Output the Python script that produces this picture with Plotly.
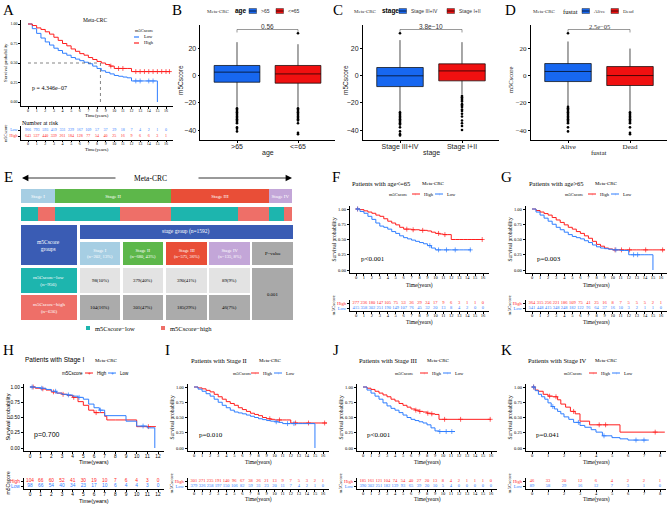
import plotly.graph_objects as go

W, H = 669, 505
SERIF = "Liberation Serif"
SANS = "Liberation Sans"
RED = "#FF1E1E"
BLUE = "#2F7EFF"
BOX_BLUE = "#1767F0"
BOX_RED = "#F01010"
TEAL = "#1DB5AE"
SALMON = "#EE6F68"
NAVY = "#3A5CB4"
STAGE_COLS = ["#A6CEE3", "#5DB74A", "#E94E37", "#C3A6D8"]

# ---------------- data ----------------
T = [0, 0.5, 1, 1.5, 2, 2.5, 3, 3.5, 4, 4.5, 5, 5.5, 6, 6.5, 7, 7.5, 8, 8.5,
     9, 9.5, 10, 10.5, 11, 11.5, 12, 12.5, 13, 13.5, 14, 14.5, 15, 15.5, 16, 16.5]
years16 = [0, 1, 2, 3, 4, 5, 6, 7, 8, 9, 10, 11, 12, 13, 14, 15, 16]
years12 = [0, 1, 2, 3, 4, 5, 6, 7, 8, 9, 10, 11, 12]
years8 = [0, 1, 2, 3, 4, 5, 6, 7, 8]

# A - whole Meta-CRC cohort
a_low_s = [1.0, 0.94, 0.88, 0.82, 0.77, 0.73, 0.69, 0.66, 0.625, 0.60, 0.57, 0.55, 0.53, 0.51,
           0.49, 0.46, 0.43, 0.40, 0.38, 0.36, 0.34, 0.33, 0.32, 0.31, 0.27, 0.27, 0.27, 0.27,
           0.27, 0.27, 0.0]
a_high_s = [1.0, 0.98, 0.95, 0.93, 0.90, 0.87, 0.83, 0.79, 0.75, 0.72, 0.68, 0.65, 0.62, 0.60,
            0.57, 0.545, 0.52, 0.50, 0.48, 0.46, 0.43, 0.43, 0.43, 0.43, 0.39, 0.39, 0.39, 0.39,
            0.39, 0.39, 0.39, 0.39, 0.39, 0.39]
a_low_cens = [12.5, 13, 14, 14.5]
a_high_cens = [9.6, 10.5, 11, 12.5, 13, 13.5, 14, 14.5, 15, 15.5, 16, 16.4]
a_median_time = [8.4]
a_risk_low = [966, 793, 593, 419, 331, 229, 167, 109, 57, 37, 29, 18, 7, 4, 2, 1, 0]
a_risk_high = [643, 537, 440, 339, 261, 184, 128, 77, 54, 40, 25, 16, 9, 6, 6, 3, 1]

# F - age <= 65
f_high_s = [1.0, 0.99, 0.97, 0.95, 0.93, 0.90, 0.88, 0.84, 0.80, 0.77, 0.74, 0.70, 0.67, 0.67,
            0.66, 0.66, 0.65, 0.65, 0.64, 0.62, 0.60, 0.59, 0.58, 0.58, 0.50, 0.50, 0.50, 0.50,
            0.50, 0.50, 0.50, 0.50, 0.50]
f_low_s = [1.0, 0.96, 0.93, 0.88, 0.83, 0.77, 0.72, 0.70, 0.67, 0.63, 0.60, 0.56, 0.53, 0.51,
           0.49, 0.47, 0.45, 0.43, 0.40, 0.36, 0.33, 0.33, 0.33, 0.33, 0.33, 0.33, 0.33, 0.33,
           0.33, 0.33]
f_high_cens = [0.2, 6.4, 7.2, 8.4, 10.4, 11.2, 15.9]
f_low_cens = [0.2, 9.3, 10.4, 11.4, 12.5, 14.4]
f_risk_high = [277, 236, 180, 147, 105, 75, 53, 36, 29, 24, 17, 9, 6, 3, 1, 1, 0]
f_risk_low = [415, 358, 302, 251, 190, 149, 107, 76, 45, 32, 20, 13, 8, 4, 2, 0, 0]

# G - age > 65
g_high_s = [1.0, 0.975, 0.95, 0.925, 0.90, 0.86, 0.82, 0.78, 0.74, 0.70, 0.67, 0.63, 0.60, 0.56,
            0.52, 0.47, 0.42, 0.39, 0.36, 0.345, 0.33, 0.33, 0.33, 0.33, 0.33, 0.33, 0.33, 0.33,
            0.33, 0.33, 0.33, 0.33, 0.33, 0.33]
g_low_s = [1.0, 0.95, 0.90, 0.85, 0.80, 0.75, 0.70, 0.66, 0.62, 0.58, 0.55, 0.53, 0.51, 0.48,
           0.45, 0.41, 0.38, 0.36, 0.35, 0.34, 0.33, 0.33, 0.32, 0.32, 0.25, 0.25, 0.25, 0.25,
           0.25, 0.25, 0.0]
g_high_cens = [10.3, 11.1, 12.1, 14.1, 16.2]
g_low_cens = [10.4, 12.6, 13.1]
g_risk_high = [364, 315, 256, 221, 186, 109, 75, 41, 25, 16, 8, 7, 5, 5, 5, 2, 1]
g_risk_low = [541, 448, 415, 348, 248, 182, 122, 91, 64, 37, 16, 10, 3, 2, 1, 1, 0]

# H - Stage I
h_high_t = [0, 0.5, 1, 1.5, 2, 2.5, 3, 3.5, 4, 4.5, 5, 5.5, 6, 6.5, 7, 7.2, 8, 9, 10, 11.8]
h_high_s = [1.0, 0.98, 0.97, 0.95, 0.92, 0.90, 0.88, 0.86, 0.83, 0.76, 0.70, 0.62, 0.58, 0.58,
            0.52, 0.46, 0.46, 0.46, 0.35, 0.35]
h_low_t = [0, 0.5, 1, 1.5, 2, 2.5, 3, 3.5, 4, 4.5, 5, 5.5, 6, 6.5, 7, 9, 10, 11, 11.7]
h_low_s = [1.0, 0.99, 0.98, 0.96, 0.93, 0.90, 0.88, 0.87, 0.85, 0.83, 0.80, 0.72, 0.66, 0.62,
           0.53, 0.44, 0.36, 0.33, 0.0]
h_high_cens = [0.3, 1.2, 2.2, 3.1, 4.1, 6.2, 11.1]
h_low_cens = [0.2, 1.1, 2.4, 3.6, 4.6, 6.6, 10.6]
h_risk_high = [104, 66, 60, 52, 41, 30, 19, 10, 7, 6, 4, 3, 0]
h_risk_low = [98, 66, 54, 40, 34, 23, 17, 10, 6, 4, 4, 3, 0]

# I - Stage II
i_high_s = [1.0, 0.985, 0.97, 0.945, 0.92, 0.88, 0.84, 0.80, 0.76, 0.73, 0.70, 0.66, 0.63, 0.60,
            0.57, 0.55, 0.53, 0.50, 0.48, 0.47, 0.46, 0.46, 0.46, 0.46, 0.41, 0.41, 0.41, 0.41,
            0.41, 0.41, 0.41, 0.41, 0.41, 0.41]
i_low_s = [1.0, 0.965, 0.93, 0.89, 0.85, 0.80, 0.75, 0.70, 0.66, 0.62, 0.59, 0.575, 0.56, 0.54,
           0.52, 0.50, 0.48, 0.465, 0.45, 0.44, 0.43, 0.42, 0.40, 0.40, 0.40, 0.40, 0.40, 0.40,
           0.40, 0.40, 0.0]
i_high_cens = [9.4, 10.6, 12.6, 14.2, 16.2]
i_low_cens = [10.2, 11.6, 12.4]
i_risk_high = [301, 271, 235, 191, 140, 96, 67, 38, 26, 21, 13, 9, 7, 5, 3, 2, 1]
i_risk_low = [379, 326, 258, 197, 150, 106, 82, 59, 31, 23, 20, 11, 7, 4, 2, 1, 0]

# J - Stage III
j_high_s = [1.0, 0.98, 0.96, 0.93, 0.90, 0.87, 0.84, 0.80, 0.77, 0.73, 0.70, 0.67, 0.64, 0.62,
            0.60, 0.59, 0.57, 0.56, 0.55, 0.47, 0.47, 0.47, 0.47, 0.47, 0.47, 0.47, 0.47, 0.47,
            0.47, 0.47, 0.47, 0.47, 0.47]
j_low_s = [1.0, 0.95, 0.90, 0.85, 0.80, 0.74, 0.69, 0.65, 0.62, 0.58, 0.54, 0.50, 0.47, 0.45,
           0.43, 0.41, 0.38, 0.33, 0.28, 0.27, 0.27, 0.27, 0.27, 0.27]
j_high_cens = [6.6, 7.1, 8.1, 8.6, 10.2, 12.2, 15.9]
j_low_cens = [9.6, 10.4, 11.1]
j_risk_high = [185, 161, 121, 104, 74, 54, 40, 27, 20, 13, 8, 4, 2, 1, 1, 1, 0]
j_risk_low = [390, 302, 251, 182, 139, 93, 65, 39, 20, 10, 5, 4, 0, 0, 0, 0, 0]

# K - Stage IV
k_high_t = [0, 0.2, 0.4, 0.7, 1, 1.3, 1.6, 1.8, 2.1, 2.4, 2.7, 3, 3.6, 5.5, 8.3]
k_high_s = [1.0, 0.95, 0.93, 0.88, 0.85, 0.84, 0.79, 0.72, 0.67, 0.60, 0.56, 0.44, 0.38, 0.26, 0.26]
k_low_t = [0, 0.2, 0.4, 0.6, 0.8, 1, 1.2, 1.4, 1.6, 1.8, 2, 2.3, 2.6, 3, 3.3, 3.7, 4, 4.4, 5,
           5.5, 6, 7.3]
k_low_s = [1.0, 0.94, 0.88, 0.84, 0.80, 0.74, 0.68, 0.64, 0.60, 0.56, 0.51, 0.47, 0.42, 0.37,
           0.34, 0.30, 0.26, 0.20, 0.17, 0.15, 0.13, 0.13]
k_high_cens = [0.1, 1.1, 1.5, 2.6, 4.2, 4.6, 7.7]
k_low_cens = [0.1, 1.3, 2.9, 4.5, 6.5, 7.0]
k_risk_high = [46, 33, 20, 12, 6, 4, 2, 2, 1]
k_risk_low = [89, 58, 29, 16, 12, 7, 3, 1, 0]

# B, C, D boxplots: (q1, median, q3, lower whisker, upper whisker)
b_labels = [">65", "<=65"]
b_stats = [(-4.9, 2.5, 7.4, -23, 24.5), (-5.6, 1.2, 7.4, -23, 23)]
b_out = [[-24, -25, -26, -27, -28, -29, -30, -31, -32, -33, -34, -35, -38, -39, -41],
         [31, -24, -25, -26, -27, -28, -29, -30, -31, -32, -33, -35, -42, -43]]
c_labels = ["Stage III+IV", "Stage I+II"]
c_stats = [(-8.1, -0.2, 5.9, -26.5, 26), (-3.9, 3.4, 8.6, -14, 24.5)]
c_out = [[31, -27, -28, -29, -30, -31, -32, -33, -34, -35, -36, -38, -41, -43, -44],
         [-15, -16, -17, -18, -19, -21, -22, -23, -25, -26, -28, -30, -33, -35, -37, -40]]
d_labels = ["Alive", "Dead"]
d_stats = [(-4.4, 3.0, 8.8, -22.7, 25), (-7.3, 0.0, 6.6, -26, 19.8)]
d_out = [[31, -23, -24, -25, -26, -27, -28, -29, -30, -31, -32, -33, -34, -35, -38, -41],
         [-27, -28, -29, -30, -31, -32, -33, -34, -35, -38, -42, -43]]

# E - stage table
stage_names = ["Stage I", "Stage II", "Stage III", "Stage IV"]
stage_low = [98, 379, 390, 89]
stage_high = [104, 301, 185, 46]
table_p = "0.001"

# ---------------- helpers ----------------
fig = go.Figure()
shapes, annots = [], []
n_ax = [0]


def X(v):
    return v / W


def Y(v):
    return 1 - v / H


def txt(x, y, s, size, family=SERIF, color="black", xanchor="center", angle=0):
    annots.append(dict(x=X(x), y=Y(y), xref="paper", yref="paper", text=s, showarrow=False,
                       font=dict(size=size, family=family, color=color), xanchor=xanchor,
                       yanchor="middle", textangle=angle))


def rect(x0, y0, x1, y1, fill, line=None, lw=0):
    shapes.append(dict(type="rect", xref="paper", yref="paper", x0=X(x0), x1=X(x1),
                       y0=Y(y1), y1=Y(y0), fillcolor=fill,
                       line=dict(width=lw, color=line or fill)))


def seg(x0, y0, x1, y1, color, width=1, dash="solid"):
    shapes.append(dict(type="line", xref="paper", yref="paper", x0=X(x0), x1=X(x1),
                       y0=Y(y0), y1=Y(y1), line=dict(color=color, width=width, dash=dash)))


def surv_at(t, s, when):
    # value of the step curve at a given time
    v = s[0]
    for ti, si in zip(t, s):
        if ti <= when:
            v = si
    return v


def new_axes(x0, x1, y0, y1, xa, ya):
    n_ax[0] += 1
    s = "" if n_ax[0] == 1 else str(n_ax[0])
    base = dict(showgrid=False, zeroline=False, showline=True, linecolor="black",
                linewidth=0.6, ticks="outside", ticklen=2, tickwidth=0.6, tickcolor="black")
    fig.update_layout({"xaxis" + s: {**base, "domain": [X(x0), X(x1)], "anchor": "y" + s, **xa},
                       "yaxis" + s: {**base, "domain": [Y(y1), Y(y0)], "anchor": "x" + s, **ya}})
    return "x" + s, "y" + s


def km_panel(x0, x1, yt, yb, rt, rb, xmax, curves, times, risk, labs, cols, fam, fs, ts,
             xt_main, xt_risk):
    dx = (x1 - x0) * 0.05
    dy = (yb - yt) * 0.05
    tf = dict(family=fam, size=fs, color="black")
    xa = dict(range=[-0.05 * xmax, 1.05 * xmax], tickvals=times, tickfont=tf,
              ticklabelstandoff=-2)
    ya = dict(range=[-0.05, 1.05], tickvals=[0, 0.25, 0.5, 0.75, 1], tickformat=".2f",
              tickfont=tf)
    xr, yr = new_axes(x0 - dx, x1 + dx, yt - dy, yb + dy, xa, ya)
    for t, s, cens, col in curves:
        fig.add_trace(go.Scatter(x=t, y=s, mode="lines", line=dict(color=col, width=1, shape="hv"),
                                 xaxis=xr, yaxis=yr))
        fig.add_trace(go.Scatter(x=cens, y=[surv_at(t, s, c) for c in cens], mode="markers",
                                 marker=dict(symbol="cross-thin", size=3.5,
                                             line=dict(color=col, width=0.7)),
                                 xaxis=xr, yaxis=yr))
    u = rb - rt
    ya2 = dict(range=[-0.6, 1.6], tickvals=[1, 0],
               ticktext=['<span style="color:%s">%s</span>' % (cols[0], labs[0]),
                         '<span style="color:%s">%s</span>' % (cols[1], labs[1])],
               tickfont=tf)
    xr2, yr2 = new_axes(x0 - dx, x1 + dx, rt - 0.6 * u, rb + 0.6 * u, xa, ya2)
    for row, vals, col in [(1, risk[0], cols[0]), (0, risk[1], cols[1])]:
        fig.add_trace(go.Scatter(x=times, y=[row] * len(vals), mode="text",
                                 text=[str(v) for v in vals],
                                 textfont=dict(family=fam, size=fs, color=col),
                                 xaxis=xr2, yaxis=yr2))
    txt((x0 + x1) / 2, xt_main, "Time(years)", ts, fam)
    txt((x0 + x1) / 2, xt_risk, "Time(years)", ts, fam)
    txt(x0 - 23, (yt + yb) / 2, "Survival probability", ts, fam, angle=-90)
    txt(x0 - 23, (rt + rb) / 2, "m5Cscore", ts - 0.5, fam, angle=-90)
    return xr, yr


def km_head(tx, ty, title, mx, lx, kx, ly, fam, fs):
    txt(tx, ty, title, fs + 1.5, fam, xanchor="left")
    txt(mx, ty, "Meta-CRC", fs, SERIF, xanchor="left")
    txt(lx, ly, "m5Cscore", fs - 0.5, fam, xanchor="left")
    seg(kx, ly, kx + 8, ly, RED, 1)
    txt(kx + 4, ly, "+", fs, fam, RED)
    txt(kx + 10, ly, "High", fs - 0.5, fam, xanchor="left")
    seg(kx + 23, ly, kx + 31, ly, BLUE, 1)
    txt(kx + 27, ly, "+", fs, fam, BLUE)
    txt(kx + 33, ly, "Low", fs - 0.5, fam, xanchor="left")


def box_panel(c1, c2, labels, stats, outs, fam, fs, xtitle, ytx, pval):
    s = c2 - c1
    tf = dict(family=fam, size=fs, color="#222")
    xa = dict(range=[0.4, 2.6], tickvals=[1, 2], ticktext=labels, tickfont=tf,
              ticklabelstandoff=-2)
    ya = dict(range=[-47.3, 37.1], tickvals=[-40, -20, 0, 20], tickfont=tf)
    xr, yr = new_axes(c1 - 0.6 * s, c2 + 0.6 * s, 25, 140, xa, ya)
    for i, (st, col) in enumerate(zip(stats, [BOX_BLUE, BOX_RED])):
        q1, med, q3, lf, uf = st
        fig.add_trace(go.Box(x=[i + 1], q1=[q1], median=[med], q3=[q3], lowerfence=[lf],
                             upperfence=[uf], fillcolor=col, line=dict(color="black", width=0.7),
                             width=0.75, whiskerwidth=0, boxpoints=False, xaxis=xr, yaxis=yr))
        fig.add_trace(go.Scatter(x=[i + 1] * len(outs[i]), y=outs[i], mode="markers",
                                 marker=dict(color="black", size=2.6), xaxis=xr, yaxis=yr))
    shapes.append(dict(type="path", xref=xr, yref=yr, path="M1,31.6 L1,33.8 L2,33.8 L2,31.6",
                       line=dict(color="#555", width=0.6)))
    txt((c1 + c2) / 2, 26, pval, fs - 0.5, fam, "#333")
    txt((c1 + c2) / 2, 153, xtitle, fs, fam, "#222")
    txt(ytx, 80, "m5Cscore", fs - 0.5, fam, "#222", angle=-90)


def box_legend(mx, title, tx, k1, l1, k2, l2, y, fam, bold):
    txt(mx, y, "Meta-CRC", 5, SERIF, "#333", xanchor="left")
    txt(tx, y, "<b>%s</b>" % title if bold else title, 6.5, fam, xanchor="left")
    for k, col, lab in [(k1, BOX_BLUE, l1), (k2, BOX_RED, l2)]:
        rect(k, y - 2.5, k + 7.5, y + 2.5, col, "#333", 0.5)
        seg(k, y, k + 7.5, y, "black", 0.7)
        txt(k + 10, y, lab, 5, fam, "#333", xanchor="left")


# ---------------- A ----------------
axr, ayr = km_panel(28, 166, 24, 102, 130, 136, 16,
                    [(T[:31], a_low_s, a_low_cens, BLUE), (T[:34], a_high_s, a_high_cens, RED)],
                    years16, [a_risk_low, a_risk_high], ["Low", "High"], [BLUE, RED],
                    SERIF, 4, 4.8, 115.5, 149)
for m in a_median_time:
    shapes.append(dict(type="line", xref=axr, yref=ayr, x0=0, x1=m, y0=0.5, y1=0.5,
                       line=dict(color="#333", width=0.6, dash="dot")))
    shapes.append(dict(type="line", xref=axr, yref=ayr, x0=m, x1=m, y0=0, y1=0.5,
                       line=dict(color="#333", width=0.6, dash="dot")))
txt(95, 20, "Meta-CRC", 5.5)
txt(133, 30, "m5Cscore", 4.5, xanchor="left")
seg(134, 37, 139, 37, BLUE, 1.2)
txt(142, 37, "Low", 4.5, xanchor="left")
seg(134, 43, 139, 43, RED, 1.2)
txt(142, 43, "High", 4.5, xanchor="left")
txt(30, 88, "p = 4.346e\u221207", 6, xanchor="left")
txt(20, 123, "Number at risk", 6, xanchor="left")

# ---------------- B, C, D ----------------
box_panel(237, 298, b_labels, b_stats, b_out, SANS, 7, "age", 180, "0.56")
box_legend(205, "age", 233, 249, ">65", 276, "<=65", 11, SANS, True)
box_panel(400, 462, c_labels, c_stats, c_out, SANS, 7, "stage", 345, "3.8e\u221210")
box_legend(352, "stage", 380, 399, "Stage III+IV", 447, "Stage I+II", 11, SANS, True)
box_panel(568, 630, d_labels, d_stats, d_out, SERIF, 7, "fustat", 510, "2.5e\u221205")
box_legend(531, "fustat", 561, 582, "Alive", 611, "Dead", 11, SERIF, False)

# ---------------- E ----------------
stage_n = [lo + hi for lo, hi in zip(stage_low, stage_high)]
total = sum(stage_n)
ex, ey = new_axes(21, 292, 189, 221, dict(range=[0, total], visible=False),
                  dict(range=[-0.389, 1.389], visible=False))
for name, n, col in zip(stage_names, stage_n, STAGE_COLS):
    fig.add_trace(go.Bar(x=[n], y=[1], orientation="h", width=0.78, marker=dict(color=col, line=dict(width=0)),
                         text=[name], textposition="inside", insidetextanchor="middle",
                         constraintext="none", textfont=dict(family=SERIF, size=5, color="white"),
                         xaxis=ex, yaxis=ey))
for lo, hi in zip(stage_low, stage_high):
    for v, col in [(lo, TEAL), (hi, SALMON)]:
        fig.add_trace(go.Bar(x=[v], y=[0], orientation="h", width=0.78,
                             marker=dict(color=col, line=dict(width=0)), xaxis=ex, yaxis=ey))

txt(150, 178, "Meta-CRC", 7.5)
annots.append(dict(x=X(22), y=Y(178), xref="paper", yref="paper", text="", showarrow=True,
                   ax=95, ay=0, arrowhead=2, arrowsize=1.6, arrowwidth=0.8, arrowcolor="black"))
annots.append(dict(x=X(292), y=Y(178), xref="paper", yref="paper", text="", showarrow=True,
                   ax=-95, ay=0, arrowhead=2, arrowsize=1.6, arrowwidth=0.8, arrowcolor="black"))

cols_x = [(80, 120), (123, 163), (166, 207), (209, 250)]
rect(21, 225, 77, 265, NAVY)
txt(49, 245, "m5Cscore<br>groups", 5.5, color="white")
rect(80, 225, 293, 239, NAVY)
txt(186, 232, "stage group (n=%d)" % total, 5.5, color="white")
for (cx0, cx1), name, n, col, lo, hi in zip(cols_x, stage_names, stage_n, STAGE_COLS,
                                            stage_low, stage_high):
    rect(cx0, 242, cx1, 265, col)
    txt((cx0 + cx1) / 2, 253.5, "%s<br>(n=%d, %d%%)" % (name, n, round(100 * n / total)),
        4.6, color="white")
    rect(cx0, 268, cx1, 293, "#E3E3E3")
    txt((cx0 + cx1) / 2, 280.5, "%d(%d%%)" % (lo, round(100 * lo / sum(stage_low))), 4.8)
    rect(cx0, 295, cx1, 320, "#ABABAB")
    txt((cx0 + cx1) / 2, 307.5, "%d(%d%%)" % (hi, round(100 * hi / sum(stage_high))), 4.8)
rect(252, 242, 293, 265, "#A9A9A9")
txt(272.5, 253.5, "P\u2212value", 4.8)
rect(252, 268, 293, 320, "#A9A9A9")
txt(272.5, 294, table_p, 4.8)
rect(21, 268, 77, 293, TEAL)
txt(49, 280.5, "m5Cscore\u2212low<br>(n=%d)" % sum(stage_low), 5, color="white")
rect(21, 295, 77, 320, SALMON)
txt(49, 307.5, "m5Cscore\u2212high<br>(n=%d)" % sum(stage_high), 5, color="white")
rect(86, 326, 90, 330, TEAL)
txt(93, 328, "m5Cscore\u2212low", 6.5, xanchor="left")
rect(161, 326, 165, 330, SALMON)
txt(168, 328, "m5Cscore\u2212high", 6.5, xanchor="left")

# ---------------- F .. K ----------------
hl_labs, hl_cols = ["High", "Low"], [RED, BLUE]
km_panel(356, 483, 209, 270, 303, 308, 16,
         [(T[:33], f_high_s, f_high_cens, RED), (T[:30], f_low_s, f_low_cens, BLUE)],
         years16, [f_risk_high, f_risk_low], hl_labs, hl_cols, SERIF, 4.5, 5.5, 285, 322)
km_head(350, 183, "Patients with age<=65", 420, 387, 412, 194, SERIF, 5)
txt(359, 259, "p<0.001", 7, xanchor="left")

km_panel(532, 661, 209, 270, 303, 308, 16,
         [(T[:34], g_high_s, g_high_cens, RED), (T[:31], g_low_s, g_low_cens, BLUE)],
         years16, [g_risk_high, g_risk_low], hl_labs, hl_cols, SERIF, 4.5, 5.5, 285, 322)
km_head(527, 183, "Patients with age>65", 593, 563, 588, 194, SERIF, 5)
txt(535, 259, "p=0.003", 7, xanchor="left")

km_panel(30, 158, 387, 448, 481, 486, 12,
         [(h_high_t, h_high_s, h_high_cens, RED), (h_low_t, h_low_s, h_low_cens, BLUE)],
         years12, [h_risk_high, h_risk_low], hl_labs, hl_cols, SANS, 4.8, 5.6, 462, 500.5)
km_head(23, 360, "Patients with Stage I", 93, 60, 85, 373, SANS, 5)
txt(32, 435, "p=0.700", 7, SANS, xanchor="left")

km_panel(194, 323, 387, 448, 481, 486, 16,
         [(T[:34], i_high_s, i_high_cens, RED), (T[:31], i_low_s, i_low_cens, BLUE)],
         years16, [i_risk_high, i_risk_low], hl_labs, hl_cols, SERIF, 4.5, 5.5, 462, 499.5)
km_head(189, 360, "Patients with Stage II", 257, 231, 251, 373, SERIF, 5)
txt(197, 435, "p=0.010", 7, xanchor="left")

km_panel(363, 491, 387, 448, 481, 486, 16,
         [(T[:33], j_high_s, j_high_cens, RED), (T[:24], j_low_s, j_low_cens, BLUE)],
         years16, [j_risk_high, j_risk_low], hl_labs, hl_cols, SERIF, 4.5, 5.5, 462, 499.5)
km_head(357, 360, "Patients with Stage III", 425, 393, 420, 373, SERIF, 5)
txt(365, 435, "p<0.001", 7, xanchor="left")

km_panel(532, 660, 387, 448, 481, 486, 8,
         [(k_high_t, k_high_s, k_high_cens, RED), (k_low_t, k_low_s, k_low_cens, BLUE)],
         years8, [k_risk_high, k_risk_low], hl_labs, hl_cols, SERIF, 4.5, 5.5, 462, 499.5)
km_head(526, 360, "Patients with Stage IV", 593, 562, 589, 373, SERIF, 5)
txt(534, 435, "p=0.041", 7, xanchor="left")

# panel letters
for lab, x, y in [("A", 8, 10), ("B", 177, 10), ("C", 338, 10), ("D", 510, 10),
                  ("E", 8, 177), ("F", 336, 177), ("G", 506, 177),
                  ("H", 8, 350), ("I", 167, 350), ("J", 336, 350), ("K", 506, 350)]:
    txt(x, y, lab, 15)

fig.update_layout(width=W, height=H, margin=dict(l=0, r=0, t=0, b=0), showlegend=False,
                  paper_bgcolor="white", plot_bgcolor="white", barmode="stack",
                  font=dict(family=SERIF, color="black"), shapes=shapes, annotations=annots)
# the page body has a default 8px margin; drop it so the figure sits at the window corner
fig.write_html("out.html", config={"displayModeBar": False},
               post_script="document.body.style.margin='0';")
